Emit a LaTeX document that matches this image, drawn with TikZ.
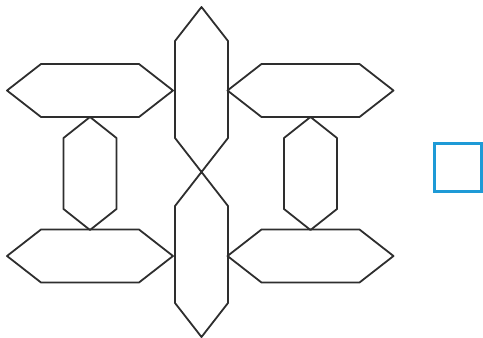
\documentclass[tikz,border=0pt]{standalone}
\usepackage{tikz}
\definecolor{darkline}{HTML}{2E2E2E}
\definecolor{boxblue}{HTML}{1E9AD6}

\begin{document}
\begin{tikzpicture}[x=1pt, y=-1pt, bar/.style={draw=darkline, line width=1.8pt, line join=round}]
						\useasboundingbox (0,0) rectangle (483,338);
						% horizontal bars
						\foreach \cx/\cy in {90/90.5, 310.5/90.5, 90/256, 310.5/256}
						\draw[bar] (\cx-83,\cy) -- ++(34,-26.5) -- ++(98,0) -- ++(34,26.5) -- ++(-34,26.5) -- ++(-98,0) -- cycle;
						% vertical bars, long (middle) and short (sides)
						\foreach \cx/\cy/\hl/\ins in {201.5/89.5/82.5/34, 201.5/254.5/82.5/34, 90/173.5/56.5/21, 310.5/173.5/56.5/21}
						\draw[bar] (\cx,\cy-\hl) -- ++(26.5,\ins) -- (\cx+26.5,\cy+\hl-\ins) -- (\cx,\cy+\hl) -- ++(-26.5,-\ins) -- (\cx-26.5,\cy-\hl+\ins) -- cycle;
						\node[draw=boxblue, line width=2.4pt, minimum width=47pt, minimum height=48pt, inner sep=0pt] (box) at (458,167.5) {};
					\end{tikzpicture}
\end{document}
